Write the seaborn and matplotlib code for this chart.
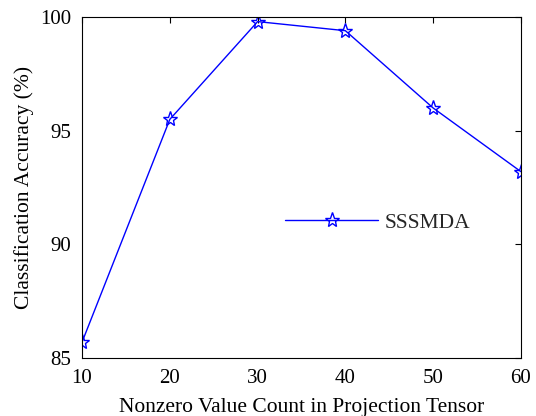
import matplotlib
matplotlib.use("Agg")
import matplotlib.pyplot as plt
import seaborn as sns
import pandas as pd

counts = [10, 20, 30, 40, 50, 60]
accuracy = [85.7, 95.5, 99.8, 99.4, 96.0, 93.2]
series_name = "SSSMDA"

sns.set_theme(style="white")
plt.rcParams['font.family'] = ['Liberation Serif', 'DejaVu Serif']
plt.rcParams['mathtext.fontset'] = 'stix'

df = pd.DataFrame({"count": counts, "acc": accuracy, "method": series_name})

fig = plt.figure(figsize=(5.36, 4.16), dpi=100)
ax = fig.add_axes([0.153, 0.139, 0.819, 0.820])
sns.lineplot(data=df, x="count", y="acc", hue="method", palette=["#0000ff"],
             marker="*", markersize=11, markerfacecolor="none", markeredgecolor="#0000ff",
             markeredgewidth=1.0, linewidth=1.0, ax=ax)

ax.set_xlim(10, 60)
ax.set_ylim(85, 100)
ax.set_xticks([10, 20, 30, 40, 50, 60])
ax.set_yticks([85, 90, 95, 100])
ax.tick_params(direction="in", top=True, right=True, length=4, width=0.8,
               labelsize=15, color="black", labelcolor="black", pad=8)
for s in ax.spines.values():
    s.set_color("black")
    s.set_linewidth(0.8)
ax.set_xlabel("Nonzero Value Count in Projection Tensor", fontsize=15.5, color="black", labelpad=7)
ax.set_ylabel("Classification Accuracy (%)", fontsize=15.5, color="black", labelpad=4)

leg = ax.legend(loc="center left", bbox_to_anchor=(0.419, 0.397), frameon=False,
                fontsize=15.5, handlelength=4.3, handletextpad=0.3)

fig.savefig("out.png", dpi=100)
